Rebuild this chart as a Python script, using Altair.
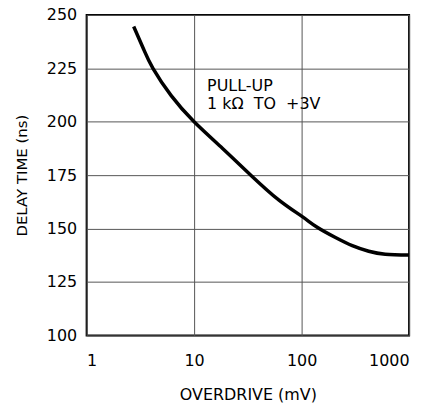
import altair as alt
import pandas as pd

overdrive = [2.74, 3.4, 4.14, 6.12, 10, 18.4, 33.7, 61.6, 100, 139.6, 206.5, 296, 421, 600, 1000]
delay = [244.6, 233.8, 225, 212.2, 200, 187.5, 175, 163.3, 155.8, 150.6, 145.8, 142, 139.4, 138, 137.6]

x_ticks = [1, 10, 100, 1000]
y_ticks = [100, 125, 150, 175, 200, 225, 250]

note_lines = ["PULL-UP", "1\u00a0k\u03a9\u00a0\u00a0TO\u00a0\u00a0+3V"]
note_x = [13.2, 13.2]
note_y = [214.5, 205.8]

FONT = "DejaVu Sans"

df = pd.DataFrame({"x": overdrive, "y": delay})
notes = pd.DataFrame({"x": note_x, "y": note_y, "t": note_lines})

xs = alt.Scale(type="log", domain=[1, 1000])
ys = alt.Scale(domain=[100, 250])

line = alt.Chart(df).mark_line(color="black", strokeWidth=3.5, interpolate="natural").encode(
    x=alt.X("x:Q", scale=xs,
            axis=alt.Axis(values=x_ticks, title="OVERDRIVE (mV)", format="d",
                          grid=True, ticks=False, domain=False,
                          labelPadding=17, titlePadding=18, titleFontSize=16)),
    y=alt.Y("y:Q", scale=ys,
            axis=alt.Axis(values=y_ticks, title="DELAY TIME (ns)",
                          grid=True, ticks=False, domain=False,
                          labelPadding=10, titlePadding=17, titleFontSize=15)),
)

text = alt.Chart(notes).mark_text(align="left", baseline="alphabetic", font=FONT,
                                  fontSize=16, color="black").encode(
    x=alt.X("x:Q", scale=xs),
    y=alt.Y("y:Q", scale=ys),
    text="t:N",
)

chart = (line + text).properties(
    width=324, height=322,
    autosize=alt.AutoSizeParams(type="none"),
    padding={"left": 79, "top": 6, "right": 20, "bottom": 70},
).configure_view(
    stroke="black", strokeWidth=2
).configure_axis(
    gridColor="#555555", gridWidth=1, gridOpacity=1,
    labelFont=FONT, labelFontSize=16, labelColor="black",
    titleFont=FONT, titleFontWeight="normal", titleColor="black",
)

chart.save("out.html", embed_options={"renderer": "svg", "actions": False})
